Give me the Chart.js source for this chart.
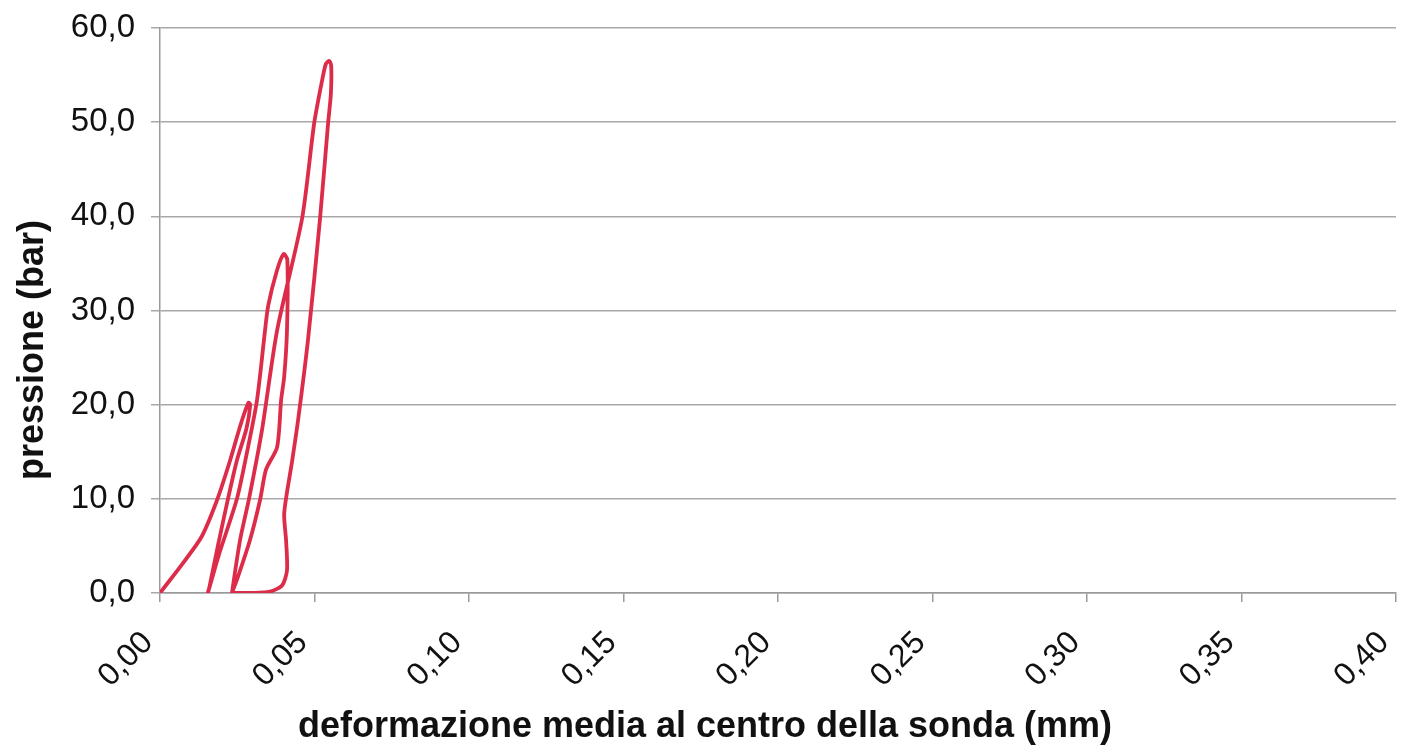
<!DOCTYPE html>
<html>
<head>
<meta charset="utf-8">
<script src="https://cdn.jsdelivr.net/npm/chart.js@4"></script>
<style>
  html, body { margin: 0; padding: 0; background: #fff; }
  #wrap { width: 1406px; height: 746px; }
</style>
</head>
<body>
<div id="wrap"><canvas id="chart" width="1406" height="746"></canvas></div>
<script>
// deformazione (mm) / pressione (bar), cycle by cycle
const load1X   = [0, 0.0075, 0.0135, 0.0185, 0.0227, 0.0262, 0.0286];
const load1Y   = [0, 3.2, 6.0, 9.9, 14.1, 18.0, 20.2];
const unload1X = [0.0292, 0.0280, 0.0249, 0.0220, 0.0188, 0.0159, 0.0155];
const unload1Y = [20.0, 17.5, 14.1, 10.0, 5.1, 0.5, 0];
const load2X   = [0.0190, 0.0249, 0.0285, 0.0314, 0.0340, 0.0350, 0.0378, 0.0400];
const load2Y   = [4.0, 10.0, 15.5, 20.5, 27.9, 30.5, 34.2, 36.0];
const unload2X = [0.0412, 0.0411, 0.0402, 0.0392, 0.0379, 0.0343, 0.0324, 0.0291, 0.0250, 0.0236, 0.0233];
const unload2Y = [35.4, 27.9, 23.0, 20.5, 15.5, 13.1, 9.9, 5.6, 1.5, 0.3, 0];
const load3X   = [0.0259, 0.0288, 0.0330, 0.0379, 0.0460, 0.0499, 0.0525, 0.0537, 0.0548];
const load3Y   = [5.6, 10.0, 17.3, 27.9, 39.8, 49.9, 54.5, 56.2, 56.5];
const unload3X = [0.0554, 0.0553, 0.0544, 0.0518, 0.0479, 0.0447, 0.0428, 0.0402, 0.0408, 0.0411, 0.0395, 0.0356, 0.0300, 0.0235];
const unload3Y = [56.0, 53.0, 49.9, 39.8, 26.9, 18.4, 14.1, 8.5, 5.6, 2.4, 0.8, 0.15, 0, 0];

const xTicks = [0, 0.05, 0.10, 0.15, 0.20, 0.25, 0.30, 0.35, 0.40];
const yTicks = [0, 10, 20, 30, 40, 50, 60];
const xTitle = 'deformazione media al centro della sonda (mm)';
const yTitle = 'pressione (bar)';

const pts = (xs, ys) => xs.map((x, i) => ({ x, y: ys[i] }));
const curve = [
  ...pts(load1X, load1Y), ...pts(unload1X, unload1Y),
  ...pts(load2X, load2Y), ...pts(unload2X, unload2Y),
  ...pts(load3X, load3Y), ...pts(unload3X, unload3Y)
];

const FONT = '"Liberation Sans", Arial, sans-serif';
const comma = (v, d) => v.toFixed(d).replace('.', ',');

// axis titles drawn by hand so they sit where the original puts them
const titles = {
  id: 'titles',
  afterDraw(c) {
    const g = c.ctx;
    g.save();
    g.fillStyle = '#111';
    g.font = 'bold 36px ' + FONT;
    g.textAlign = 'center';
    g.textBaseline = 'alphabetic';
    g.fillText(xTitle, 705, 737);
    g.translate(43, 350);
    g.rotate(-Math.PI / 2);
    g.fillText(yTitle, 0, 0);
    g.restore();
  }
};

new Chart(document.getElementById('chart'), {
  type: 'scatter',
  data: {
    datasets: [{
      data: curve,
      showLine: true,
      borderColor: '#dd2b4a',
      borderWidth: 3.8,
      pointRadius: 0,
      tension: 0.25,
      fill: false
    }]
  },
  options: {
    responsive: false,
    animation: false,
    layout: { padding: { top: 28, right: 10, left: 0, bottom: 0 } },
    plugins: { legend: { display: false }, tooltip: { enabled: false } },
    scales: {
      x: {
        type: 'linear', min: 0, max: 0.4,
        afterFit: s => { s.height = 153; s.paddingLeft = 0; s.paddingRight = 0; },
        afterBuildTicks: s => { s.ticks = xTicks.map(v => ({ value: v })); },
        border: { color: '#9a9a9a', width: 1.5 },
        grid: { drawOnChartArea: false, tickLength: 9, color: '#9a9a9a', lineWidth: 1.5 },
        ticks: {
          minRotation: 45, maxRotation: 45, padding: 22, labelOffset: -12,
          color: '#111', font: { family: FONT, size: 32 },
          callback: v => comma(v, 2)
        }
      },
      y: {
        type: 'linear', min: 0, max: 60,
        afterFit: s => { s.width = 160; s.paddingTop = 0; s.paddingBottom = 0; },
        afterBuildTicks: s => { s.ticks = yTicks.map(v => ({ value: v })); },
        border: { color: '#9a9a9a', width: 1.5 },
        grid: { color: '#a8a8a8', lineWidth: 1.5, tickLength: 9 },
        ticks: {
          padding: 16,
          color: '#111', font: { family: FONT, size: 33 },
          callback: v => comma(v, 1)
        }
      }
    }
  },
  plugins: [titles]
});
</script>
</body>
</html>
